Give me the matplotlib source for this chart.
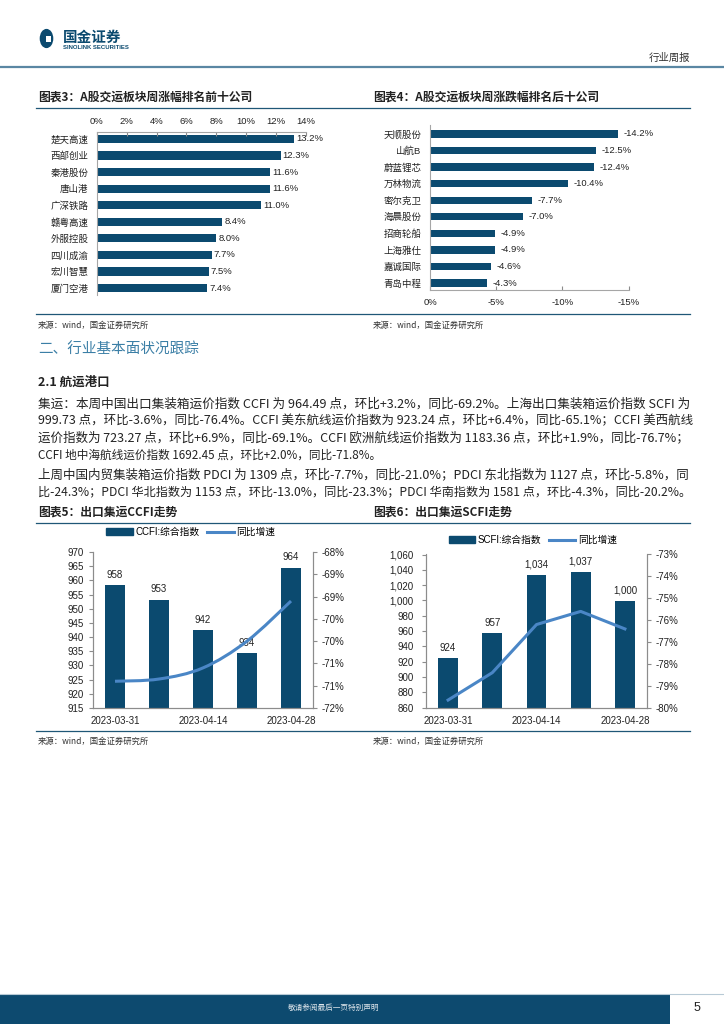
import numpy as np
import matplotlib
matplotlib.use('Agg')
import matplotlib.pyplot as plt
from matplotlib.patches import Rectangle, Circle, PathPatch
from matplotlib.lines import Line2D
from matplotlib.path import Path
from matplotlib.ticker import FuncFormatter

plt.rcParams['font.family'] = ['Liberation Sans', 'Noto Sans CJK SC', 'DejaVu Sans']
plt.rcParams['axes.unicode_minus'] = False
CJK = ['Noto Sans CJK SC', 'DejaVu Sans']

# ---------------- data ----------------
top_names = ['楚天高速', '西部创业', '秦港股份', '唐山港', '广深铁路',
             '赣粤高速', '外服控股', '四川成渝', '宏川智慧', '厦门空港']
top_pct = [13.2, 12.3, 11.6, 11.6, 11.0, 8.4, 8.0, 7.7, 7.5, 7.4]
top_ticks = [0, 2, 4, 6, 8, 10, 12, 14]

bot_names = ['天顺股份', '山航B', '蔚蓝锂芯', '万林物流', '密尔克卫',
             '海晨股份', '招商轮船', '上海雅仕', '嘉诚国际', '青岛中程']
bot_pct = [-14.2, -12.5, -12.4, -10.4, -7.7, -7.0, -4.9, -4.9, -4.6, -4.3]
bot_ticks = [0, -5, -10, -15]

dates = ['2023-03-31', '2023-04-07', '2023-04-14', '2023-04-21', '2023-04-28']
ccfi = [958.3, 953.2, 942.4, 934.4, 964.49]
ccfi_yoy = [-71.0, -70.95, -70.7, -70.1, -69.2]
ccfi_left_ticks = [915, 920, 925, 930, 935, 940, 945, 950, 955, 960, 965, 970]
ccfi_right_ticks = [-71.6, -71.1, -70.6, -70.1, -69.6, -69.1, -68.6, -68.1]

scfi = [924.4, 957.0, 1033.7, 1036.9, 999.73]
scfi_yoy = [-79.65, -78.4, -76.2, -75.6, -76.4]
scfi_left_ticks = [860, 880, 900, 920, 940, 960, 980, 1000, 1020, 1040, 1060]
scfi_right_ticks = [-80, -79, -78, -77, -76, -75, -74, -73]

para1 = [
    "集运：本周中国出口集装箱运价指数 CCFI 为 964.49 点，环比+3.2%，同比-69.2%。上海出口集装箱运价指数 SCFI 为",
    "999.73 点，环比-3.6%，同比-76.4%。CCFI 美东航线运价指数为 923.24 点，环比+6.4%，同比-65.1%；CCFI 美西航线",
    "运价指数为 723.27 点，环比+6.9%，同比-69.1%。CCFI 欧洲航线运价指数为 1183.36 点，环比+1.9%，同比-76.7%；",
    "CCFI 地中海航线运价指数 1692.45 点，环比+2.0%，同比-71.8%。",
]
para2 = [
    "上周中国内贸集装箱运价指数 PDCI 为 1309 点，环比-7.7%，同比-21.0%；PDCI 东北指数为 1127 点，环比-5.8%，同",
    "比-24.3%；PDCI 华北指数为 1153 点，环比-13.0%，同比-23.3%；PDCI 华南指数为 1581 点，环比-4.3%，同比-20.2%。",
]

# ---------------- style ----------------
BAR = '#0b4a6f'
LINE = '#4a86c6'
DARK = '#1f5777'
SPINE = '#8c8c8c'
TXT = '#222222'

W, H = 724, 1024
fig = plt.figure(figsize=(W / 100, H / 100), dpi=100)


def rect(l, t, r, b):
    return [l / W, 1 - b / H, (r - l) / W, (b - t) / H]


def ftext(x, y, s, **kw):
    kw.setdefault('va', 'center')
    return fig.text(x / W, 1 - y / H, s, **kw)


def hline(x0, x1, y, color=DARK, lw=0.9):
    fig.add_artist(Line2D([x0 / W, x1 / W], [1 - y / H, 1 - y / H], color=color,
                          lw=lw, transform=fig.transFigure))


# ---------------- header ----------------
fig.add_artist(Circle((46.5 / W, 1 - 38.5 / H), 6.8 / W, transform=fig.transFigure,
                      color=BAR, lw=0))
fig.add_artist(Rectangle((46.0 / W, 1 - 42.0 / H), 4.5 / W, 6.5 / H,
                         transform=fig.transFigure, color='white', lw=0))
ftext(63, 37, '国金证券', fontsize=10.5, fontweight='bold', color=BAR, family=CJK)
ftext(63, 47.5, 'SINOLINK SECURITIES', fontsize=4.3, fontweight='bold', color=BAR)
ftext(690, 58, '行业周报', fontsize=7.5, color='#333333', ha='right', family=CJK)
hline(0, 724, 66.5, color='#5a87a3', lw=1.6)

# ---------------- chart titles / rules ----------------
ftext(38, 97, '图表3：A股交运板块周涨幅排名前十公司', fontsize=8.5, fontweight='bold',
      color=TXT, family=CJK, style='italic')
ftext(373, 97, '图表4：A股交运板块周涨跌幅排名后十公司', fontsize=8.5, fontweight='bold',
      color=TXT, family=CJK, style='italic')
hline(36, 690, 107.5)
hline(36, 690, 313.5)
ftext(38, 325, '来源：wind，国金证券研究所', fontsize=6, color='#333333', family=CJK)
ftext(373, 325, '来源：wind，国金证券研究所', fontsize=6, color='#333333', family=CJK)

ftext(38, 512, '图表5：出口集运CCFI走势', fontsize=8.5, fontweight='bold',
      color=TXT, family=CJK, style='italic')
ftext(373, 512, '图表6：出口集运SCFI走势', fontsize=8.5, fontweight='bold',
      color=TXT, family=CJK, style='italic')
hline(36, 690, 522.5)
hline(36, 690, 730.5)
ftext(38, 741, '来源：wind，国金证券研究所', fontsize=6, color='#333333', family=CJK)
ftext(373, 741, '来源：wind，国金证券研究所', fontsize=6, color='#333333', family=CJK)

# ---------------- chart 3 ----------------
ax3 = fig.add_axes(rect(96.7, 131.7, 306, 295))
y = np.arange(len(top_names))
ax3.barh(y, top_pct, height=0.5, color=BAR)
ax3.set_xlim(0, 14)
ax3.set_ylim(9.42, -0.44)
ax3.xaxis.tick_top()
ax3.set_xticks(top_ticks)
ax3.set_xticklabels([f'{v}%' for v in top_ticks])
ax3.set_yticks(y)
ax3.set_yticklabels(top_names)
ax3.tick_params(axis='x', direction='in', length=3, color=SPINE, labelsize=6.8,
                labelcolor=TXT, pad=4)
ax3.tick_params(axis='y', length=0, labelsize=6.8, labelcolor=TXT, pad=6)
for s in ['right', 'bottom']:
    ax3.spines[s].set_visible(False)
for s in ['top', 'left']:
    ax3.spines[s].set_color('#a6a6a6')
    ax3.spines[s].set_linewidth(0.8)
for i, v in enumerate(top_pct):
    ax3.annotate(f'{v:.1f}%', (v, i), xytext=(1.5, 0), textcoords='offset points',
                 va='center', ha='left', fontsize=6.8, color=TXT)

# ---------------- chart 4 ----------------
ax4 = fig.add_axes(rect(430, 125, 628.7, 290))
y = np.arange(len(bot_names))
ax4.barh(y, bot_pct, height=0.44, color=BAR)
ax4.set_xlim(0, -15)
ax4.set_ylim(9.42, -0.54)
ax4.set_xticks(bot_ticks)
ax4.set_xticklabels([f'{v}%' for v in bot_ticks])
ax4.set_yticks(y)
ax4.set_yticklabels(bot_names)
ax4.tick_params(axis='x', direction='in', length=3, color=SPINE, labelsize=6.8,
                labelcolor=TXT, pad=6)
ax4.tick_params(axis='y', length=0, labelsize=6.8, labelcolor=TXT, pad=6)
for s in ['right', 'top']:
    ax4.spines[s].set_visible(False)
for s in ['bottom', 'left']:
    ax4.spines[s].set_color('#a6a6a6')
    ax4.spines[s].set_linewidth(0.8)
for i, v in enumerate(bot_pct):
    ax4.annotate(f'{v:.1f}%', (v, i), xytext=(4, 0), textcoords='offset points',
                 va='center', ha='left', fontsize=6.8, color=TXT)

# ---------------- section text ----------------
ftext(38, 350, '二、行业基本面状况跟踪', fontsize=10.5, color='#3b7fa6', family=CJK,
      fontweight='light')
ftext(38, 382, '2.1 航运港口', fontsize=9, fontweight='bold', color=TXT, family=CJK)

renderer = fig.canvas.get_renderer()
BASE = 8.4
TARGET = 652.0


def body_line(yy, s, justify):
    t = ftext(38, yy, s, fontsize=BASE, color=TXT, family=CJK)
    if justify:
        w = t.get_window_extent(renderer).width
        fs = BASE * TARGET / w
        fs = max(BASE * 0.9, min(BASE * 1.1, fs))
        t.set_fontsize(fs)
    return t


ys1 = [404, 421, 438, 455]
for i, s in enumerate(para1):
    body_line(ys1[i], s, i < len(para1) - 1)
ys2 = [475, 492]
for i, s in enumerate(para2):
    body_line(ys2[i], s, True)


# ---------------- combo charts ----------------
def combo(ax_rect, vals, yoy, lt, rt, lfmt, rfmt, smooth, lpad, rpad):
    ax = fig.add_axes(ax_rect)
    x = np.arange(len(vals))
    ax.bar(x, vals, width=0.45, color=BAR, zorder=2)
    ax.set_xlim(-0.5, len(vals) - 0.5)
    ax.set_ylim(lt[0], lt[-1])
    ax.set_yticks(lt)
    ax.yaxis.set_major_formatter(FuncFormatter(lfmt))
    ax.set_xticks(x)
    ax.set_xticklabels([d if i % 2 == 0 else '' for i, d in enumerate(dates)])
    ax.tick_params(axis='x', length=0, labelsize=7, labelcolor=TXT, pad=6)
    ax.tick_params(axis='y', direction='out', length=3, color=SPINE, labelsize=7,
                   labelcolor=TXT, pad=lpad)
    ax.spines['top'].set_visible(False)
    for s in ['left', 'right', 'bottom']:
        ax.spines[s].set_color(SPINE)
        ax.spines[s].set_linewidth(0.8)
    for i, v in enumerate(vals):
        ax.annotate(lfmt(round(v), None), (i, v), xytext=(0, 7.5), textcoords='offset points',
                    ha='center', va='center', fontsize=7, color=TXT, zorder=3)
    axr = ax.twinx()
    axr.set_ylim(rt[0], rt[-1])
    axr.set_yticks(rt)
    axr.yaxis.set_major_formatter(FuncFormatter(rfmt))
    axr.tick_params(axis='y', direction='out', length=3, color=SPINE, labelsize=7,
                    labelcolor=TXT, pad=rpad)
    axr.spines['top'].set_visible(False)
    for s in ['left', 'right', 'bottom']:
        axr.spines[s].set_color(SPINE)
        axr.spines[s].set_linewidth(0.8)
    pts = np.column_stack([x, yoy]).astype(float)
    if smooth:
        verts = [tuple(pts[0])]
        codes = [Path.MOVETO]
        n = len(pts)
        for i in range(n - 1):
            p0 = pts[max(i - 1, 0)]
            p1 = pts[i]
            p2 = pts[i + 1]
            p3 = pts[min(i + 2, n - 1)]
            c1 = p1 + (p2 - p0) / 6.0
            c2 = p2 - (p3 - p1) / 6.0
            verts += [tuple(c1), tuple(c2), tuple(p2)]
            codes += [Path.CURVE4] * 3
        axr.add_patch(PathPatch(Path(verts, codes), fill=False, edgecolor=LINE,
                                lw=2.2, capstyle='butt', zorder=4))
    else:
        axr.plot(x, yoy, color=LINE, lw=2.2, zorder=4)
    handles = [Rectangle((0, 0), 1, 1, color=BAR), Line2D([], [], color=LINE, lw=2.2)]
    return ax, axr, handles


def num_fmt(v, pos):
    return f'{v:,.0f}'


def pct_fmt(v, pos):
    return f'{v:.0f}%'


ax5, ax5r, h5 = combo(rect(93, 552, 313, 708), ccfi, ccfi_yoy, ccfi_left_ticks,
                      ccfi_right_ticks, num_fmt, pct_fmt, True, 3.5, 3)
fig.legend(h5, ['CCFI:综合指数', '同比增速'], loc='center',
           bbox_to_anchor=(191 / W, 1 - 532 / H), ncol=2, frameon=False, fontsize=7,
           handlelength=2.7, handleheight=0.6, handletextpad=0.3, columnspacing=0.8,
           borderpad=0, borderaxespad=0)

ax6, ax6r, h6 = combo(rect(426, 554.5, 647, 707.7), scfi, scfi_yoy, scfi_left_ticks,
                      scfi_right_ticks, num_fmt, pct_fmt, False, 6, 3.5)
fig.legend(h6, ['SCFI:综合指数', '同比增速'], loc='center',
           bbox_to_anchor=(533 / W, 1 - 540 / H), ncol=2, frameon=False, fontsize=7,
           handlelength=2.7, handleheight=0.6, handletextpad=0.3, columnspacing=0.8,
           borderpad=0, borderaxespad=0)

# ---------------- footer ----------------
fig.add_artist(Rectangle((0, 0), 670 / W, (H - 994) / H, transform=fig.transFigure,
                         color='#0d4a6f', lw=0))
hline(0, 724, 993.5, color='#b8cad6', lw=0.8)
ftext(334, 1008, '敬请参阅最后一页特别声明', fontsize=5.5, color='#dfe6ec', ha='center',
      family=CJK)
ftext(697, 1008, '5', fontsize=9, color=TXT, ha='center')

fig.savefig('out.png', dpi=100)
